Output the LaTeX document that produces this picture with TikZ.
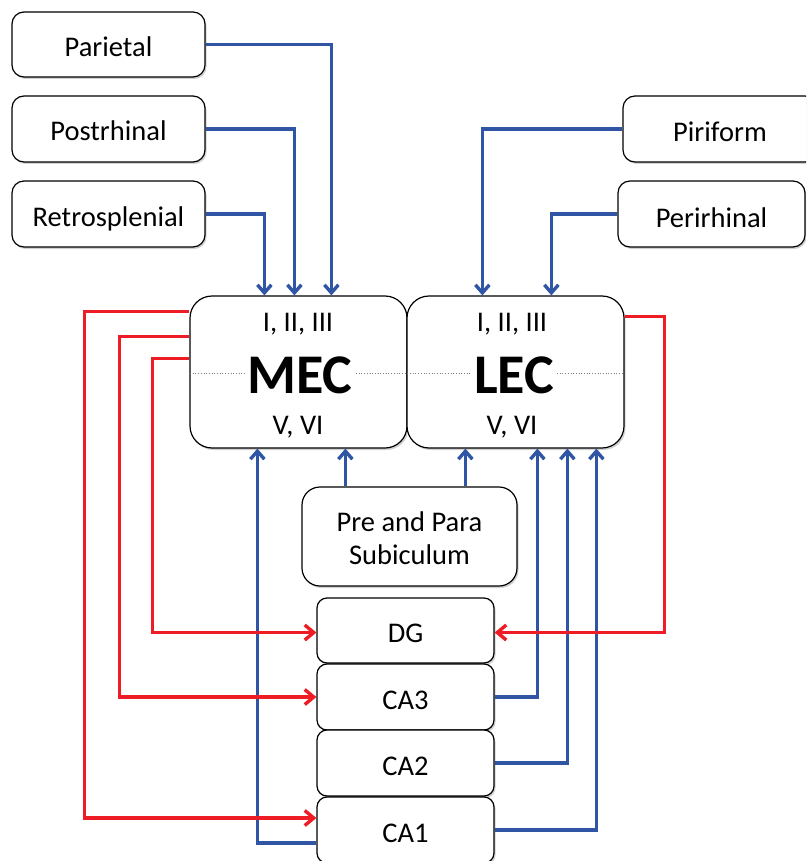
\documentclass[tikz,border=0pt]{standalone}
\usepackage{fontspec}
\setmainfont{Carlito}
\usetikzlibrary{arrows.meta,shadows,calc}
\definecolor{myblue}{HTML}{2F55A4}
\definecolor{myred}{HTML}{EE1C25}
\tikzset{
  box/.style={draw=black, line width=1.2pt, fill=white, rounded corners=12pt,
    inner sep=0pt, text height=24pt, text depth=0pt,
    font=\fontsize{28.5}{33}\selectfont,
    drop shadow={opacity=0.3, shadow xshift=1.5pt, shadow yshift=-2pt, fill=black!60}},
  lbl/.style={inner sep=0pt, font=\fontsize{28.5}{33}\selectfont},
  bigname/.style={inner sep=0pt, font=\bfseries\fontsize{56}{60}\selectfont},
  blueln/.style={draw=myblue, line width=3.4pt, -{Straight Barb[length=8pt,width=14pt]}},
  redln/.style={draw=myred, line width=3.4pt, -{Straight Barb[length=9pt,width=15pt]}},
  sep/.style={draw=black!50, dotted, line width=0.7pt}
}
\begin{document}
\begin{tikzpicture}[x=1pt,y=-1pt]
\clip (0,0) rectangle (806,861);
% left inputs
\node[box, minimum width=193pt, minimum height=65pt] (par) at (108.5,44.5) {Parietal};
\node[box, minimum width=193pt, minimum height=66pt] (post) at (108.5,129) {Postrhinal};
\node[box, minimum width=193pt, minimum height=66pt] (retro) at (108.5,214) {Retrosplenial};
% right inputs
\node[box, text height=26pt, minimum width=194pt, minimum height=66pt] (pir) at (720,129) {Piriform};
\node[box, text height=26pt, minimum width=187pt, minimum height=66pt] (peri) at (711.5,214) {Perirhinal};
% entorhinal cortex
\node[box, rounded corners=22pt, minimum width=217pt, minimum height=152pt] (mec) at (298.5,372) {};
\node[box, rounded corners=22pt, minimum width=217pt, minimum height=152pt] (lec) at (515.5,372) {};
\draw[sep] (190,373) -- (246,373);
\draw[sep] (356,373) -- (472,373);
\draw[sep] (557,373) -- (623,373);
\node[lbl, anchor=base] (mecsup) at (298,331) {I, II, III};
\node[bigname, anchor=base] (mecname) at (300,393) {MEC};
\node[lbl, anchor=base] (mecdeep) at (298,434) {V, VI};
\node[lbl, anchor=base] (lecsup) at (512,331) {I, II, III};
\node[bigname, anchor=base] (lecname) at (514,393) {LEC};
\node[lbl, anchor=base] (lecdeep) at (512,434) {V, VI};
% subiculum
\node[box, rounded corners=18pt, align=center, text height=55pt, text depth=0pt, minimum width=215pt, minimum height=99pt] (pre) at (409.5,536.5) {Pre and Para\\Subiculum};
% hippocampus
\node[box, rounded corners=10pt, minimum width=177pt, minimum height=65pt] (dg) at (405.5,630.5) {DG};
\node[box, rounded corners=10pt, minimum width=177pt, minimum height=66pt] (ca3) at (405.5,697) {CA3};
\node[box, rounded corners=10pt, minimum width=177pt, minimum height=66pt] (ca2) at (405.5,763) {CA2};
\node[box, rounded corners=10pt, minimum width=177pt, minimum height=66pt] (ca1) at (405.5,830) {CA1};
% blue projections
\draw[blueln] (par.east) -| ([xshift=142pt]mec.north west);
\draw[blueln] (post.east) -| ([xshift=105pt]mec.north west);
\draw[blueln] (retro.east) -| ([xshift=75pt]mec.north west);
\draw[blueln] (pir.west) -| ([xshift=76pt]lec.north west);
\draw[blueln] (peri.west) -| ([xshift=145pt]lec.north west);
\coordinate (preA) at ([xshift=44pt]pre.north west);
\coordinate (preB) at ([xshift=164pt]pre.north west);
\draw[blueln] (preA) -- (preA |- mec.south);
\draw[blueln] (preB) -- (preB |- lec.south);
\draw[blueln] ([yshift=-13pt]ca1.west) -| ([xshift=68pt]mec.south west);
\draw[blueln] (ca3.east) -| ([xshift=131pt]lec.south west);
\draw[blueln] (ca2.east) -| ([xshift=161pt]lec.south west);
\draw[blueln] (ca1.east) -| ([xshift=190pt]lec.south west);
% red projections
\draw[redln] ([yshift=-16pt]mec.north west) -- ++(-105,0) |- ([yshift=12pt]ca1.west);
\draw[redln] ([yshift=-41pt]mec.north west) -- ++(-70,0) |- (ca3.west);
\draw[redln] ([yshift=-63pt]mec.north west) -- ++(-37,0) |- ([yshift=-2pt]dg.west);
\draw[redln] ([yshift=-21pt]lec.north east) -- ++(40,0) |- ([yshift=-2pt]dg.east);
\end{tikzpicture}
\end{document}
